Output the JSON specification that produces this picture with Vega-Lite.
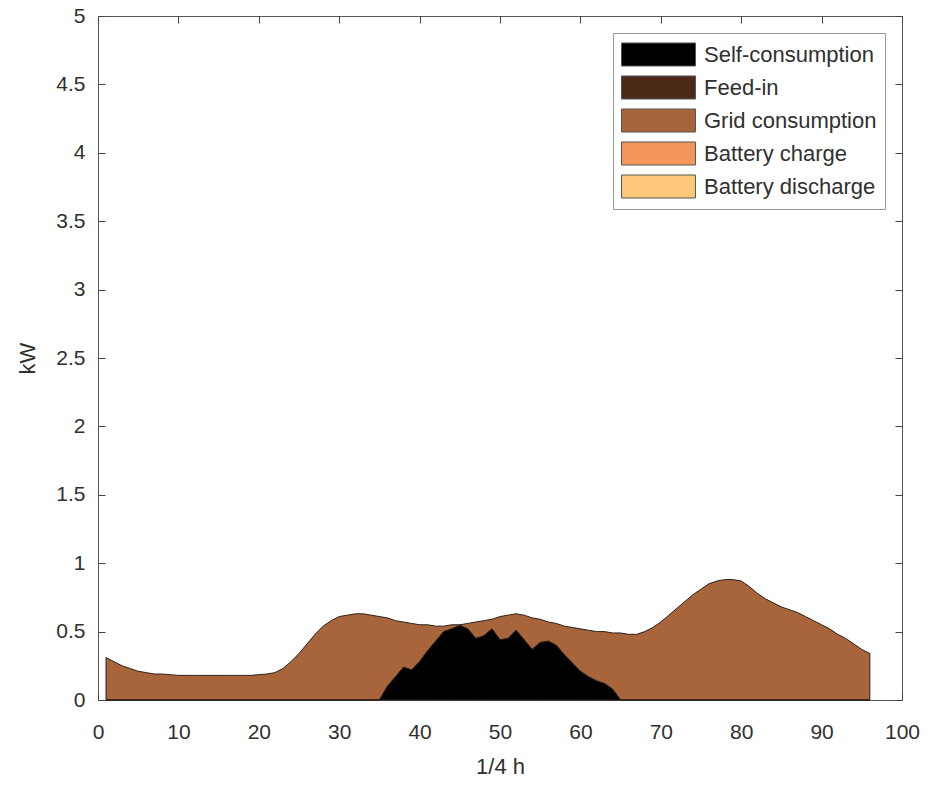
{
  "$schema": "https://vega.github.io/schema/vega-lite/v6.json",
  "width": 804,
  "height": 684,
  "padding": {"left": 16, "top": 5, "right": 10, "bottom": 5},
  "background": "white",
  "config": {
    "view": {"stroke": "#555", "strokeWidth": 1},
    "font": "Liberation Sans",
    "axis": {"grid": false, "domain": false, "ticks": true, "tickColor": "#444", "tickWidth": 1, "tickSize": 7, "offset": -7, "zindex": 1, "labelFont": "Liberation Sans", "labelFontSize": 21, "labelColor": "#303030", "titleFont": "Liberation Sans", "titleFontSize": 22, "titleFontWeight": "normal", "titleColor": "#303030"}
  },
  "data": {"values": [
    {"t":1,"series":"Grid consumption","kW":0.31},{"t":2,"series":"Grid consumption","kW":0.28},{"t":3,"series":"Grid consumption","kW":0.25},{"t":4,"series":"Grid consumption","kW":0.23},{"t":5,"series":"Grid consumption","kW":0.21},{"t":6,"series":"Grid consumption","kW":0.20},{"t":7,"series":"Grid consumption","kW":0.19},{"t":8,"series":"Grid consumption","kW":0.19},{"t":9,"series":"Grid consumption","kW":0.185},{"t":10,"series":"Grid consumption","kW":0.18},
    {"t":11,"series":"Grid consumption","kW":0.18},{"t":12,"series":"Grid consumption","kW":0.18},{"t":13,"series":"Grid consumption","kW":0.18},{"t":14,"series":"Grid consumption","kW":0.18},{"t":15,"series":"Grid consumption","kW":0.18},{"t":16,"series":"Grid consumption","kW":0.18},{"t":17,"series":"Grid consumption","kW":0.18},{"t":18,"series":"Grid consumption","kW":0.18},{"t":19,"series":"Grid consumption","kW":0.18},{"t":20,"series":"Grid consumption","kW":0.185},
    {"t":21,"series":"Grid consumption","kW":0.19},{"t":22,"series":"Grid consumption","kW":0.20},{"t":23,"series":"Grid consumption","kW":0.23},{"t":24,"series":"Grid consumption","kW":0.28},{"t":25,"series":"Grid consumption","kW":0.34},{"t":26,"series":"Grid consumption","kW":0.41},{"t":27,"series":"Grid consumption","kW":0.48},{"t":28,"series":"Grid consumption","kW":0.54},{"t":29,"series":"Grid consumption","kW":0.58},{"t":30,"series":"Grid consumption","kW":0.61},
    {"t":31,"series":"Grid consumption","kW":0.62},{"t":32,"series":"Grid consumption","kW":0.63},{"t":33,"series":"Grid consumption","kW":0.63},{"t":34,"series":"Grid consumption","kW":0.62},{"t":35,"series":"Grid consumption","kW":0.61},{"t":36,"series":"Grid consumption","kW":0.50},{"t":37,"series":"Grid consumption","kW":0.41},{"t":38,"series":"Grid consumption","kW":0.33},{"t":39,"series":"Grid consumption","kW":0.34},{"t":40,"series":"Grid consumption","kW":0.27},
    {"t":41,"series":"Grid consumption","kW":0.19},{"t":42,"series":"Grid consumption","kW":0.11},{"t":43,"series":"Grid consumption","kW":0.04},{"t":44,"series":"Grid consumption","kW":0.03},{"t":45,"series":"Grid consumption","kW":0.005},{"t":46,"series":"Grid consumption","kW":0.04},{"t":47,"series":"Grid consumption","kW":0.12},{"t":48,"series":"Grid consumption","kW":0.11},{"t":49,"series":"Grid consumption","kW":0.07},{"t":50,"series":"Grid consumption","kW":0.17},
    {"t":51,"series":"Grid consumption","kW":0.17},{"t":52,"series":"Grid consumption","kW":0.12},{"t":53,"series":"Grid consumption","kW":0.18},{"t":54,"series":"Grid consumption","kW":0.23},{"t":55,"series":"Grid consumption","kW":0.17},{"t":56,"series":"Grid consumption","kW":0.14},{"t":57,"series":"Grid consumption","kW":0.16},{"t":58,"series":"Grid consumption","kW":0.21},{"t":59,"series":"Grid consumption","kW":0.26},{"t":60,"series":"Grid consumption","kW":0.31},
    {"t":61,"series":"Grid consumption","kW":0.34},{"t":62,"series":"Grid consumption","kW":0.36},{"t":63,"series":"Grid consumption","kW":0.38},{"t":64,"series":"Grid consumption","kW":0.41},{"t":65,"series":"Grid consumption","kW":0.49},{"t":66,"series":"Grid consumption","kW":0.48},{"t":67,"series":"Grid consumption","kW":0.48},{"t":68,"series":"Grid consumption","kW":0.50},{"t":69,"series":"Grid consumption","kW":0.53},{"t":70,"series":"Grid consumption","kW":0.57},
    {"t":71,"series":"Grid consumption","kW":0.62},{"t":72,"series":"Grid consumption","kW":0.67},{"t":73,"series":"Grid consumption","kW":0.72},{"t":74,"series":"Grid consumption","kW":0.77},{"t":75,"series":"Grid consumption","kW":0.81},{"t":76,"series":"Grid consumption","kW":0.85},{"t":77,"series":"Grid consumption","kW":0.87},{"t":78,"series":"Grid consumption","kW":0.88},{"t":79,"series":"Grid consumption","kW":0.88},{"t":80,"series":"Grid consumption","kW":0.87},
    {"t":81,"series":"Grid consumption","kW":0.83},{"t":82,"series":"Grid consumption","kW":0.78},{"t":83,"series":"Grid consumption","kW":0.74},{"t":84,"series":"Grid consumption","kW":0.71},{"t":85,"series":"Grid consumption","kW":0.68},{"t":86,"series":"Grid consumption","kW":0.66},{"t":87,"series":"Grid consumption","kW":0.64},{"t":88,"series":"Grid consumption","kW":0.61},{"t":89,"series":"Grid consumption","kW":0.58},{"t":90,"series":"Grid consumption","kW":0.55},
    {"t":91,"series":"Grid consumption","kW":0.52},{"t":92,"series":"Grid consumption","kW":0.48},{"t":93,"series":"Grid consumption","kW":0.45},{"t":94,"series":"Grid consumption","kW":0.41},{"t":95,"series":"Grid consumption","kW":0.37},{"t":96,"series":"Grid consumption","kW":0.34},
    {"t":35,"series":"Self-consumption","kW":0},{"t":36,"series":"Self-consumption","kW":0.10},{"t":37,"series":"Self-consumption","kW":0.17},{"t":38,"series":"Self-consumption","kW":0.24},{"t":39,"series":"Self-consumption","kW":0.22},{"t":40,"series":"Self-consumption","kW":0.28},
    {"t":41,"series":"Self-consumption","kW":0.36},{"t":42,"series":"Self-consumption","kW":0.43},{"t":43,"series":"Self-consumption","kW":0.50},{"t":44,"series":"Self-consumption","kW":0.52},{"t":45,"series":"Self-consumption","kW":0.545},{"t":46,"series":"Self-consumption","kW":0.52},{"t":47,"series":"Self-consumption","kW":0.45},{"t":48,"series":"Self-consumption","kW":0.47},{"t":49,"series":"Self-consumption","kW":0.52},{"t":50,"series":"Self-consumption","kW":0.44},
    {"t":51,"series":"Self-consumption","kW":0.45},{"t":52,"series":"Self-consumption","kW":0.51},{"t":53,"series":"Self-consumption","kW":0.44},{"t":54,"series":"Self-consumption","kW":0.37},{"t":55,"series":"Self-consumption","kW":0.42},{"t":56,"series":"Self-consumption","kW":0.43},{"t":57,"series":"Self-consumption","kW":0.40},{"t":58,"series":"Self-consumption","kW":0.33},{"t":59,"series":"Self-consumption","kW":0.27},{"t":60,"series":"Self-consumption","kW":0.21},
    {"t":61,"series":"Self-consumption","kW":0.17},{"t":62,"series":"Self-consumption","kW":0.14},{"t":63,"series":"Self-consumption","kW":0.12},{"t":64,"series":"Self-consumption","kW":0.08},{"t":65,"series":"Self-consumption","kW":0}
  ]},
  "layer": [
    {
      "mark": {"type": "area", "stroke": "#2a2018", "strokeWidth": 1, "interpolate": "linear"},
      "encoding": {
        "x": {"field": "t", "type": "quantitative", "scale": {"domain": [0, 100], "nice": false},
              "axis": {"orient": "bottom", "title": "1/4 h", "values": [0,10,20,30,40,50,60,70,80,90,100], "labelFlush": false, "labelPadding": 21, "titlePadding": 14}},
        "y": {"field": "kW", "type": "quantitative", "stack": "zero", "scale": {"domain": [0, 5], "nice": false},
              "axis": {"orient": "left", "title": "kW", "values": [0,0.5,1,1.5,2,2.5,3,3.5,4,4.5,5], "format": "~g", "labelPadding": 13, "titlePadding": 16}},
        "color": {"field": "series", "type": "nominal",
                  "scale": {"domain": ["Self-consumption","Feed-in","Grid consumption","Battery charge","Battery discharge"],
                            "range": ["#000000","#4b2a18","#a8643a","#f4955a","#fdc678"]},
                  "legend": {"title": null, "orient": "top-right", "offset": 17, "fillColor": "white", "strokeColor": "#999", "padding": 8,
                             "symbolType": "M-1,-0.885H4.69V0.885H-1Z", "symbolSize": 676, "symbolStrokeColor": "#555", "symbolStrokeWidth": 1, "symbolOpacity": 1,
                             "labelOffset": 56, "labelFontSize": 22, "labelFont": "Liberation Sans", "labelColor": "#303030", "rowPadding": 4, "labelLimit": 400}},
        "order": {"field": "series", "sort": "descending"}
      }
    },
    {
      "mark": {"type": "point", "opacity": 0},
      "encoding": {
        "x": {"field": "t", "type": "quantitative", "axis": {"orient": "top", "labels": false, "title": null, "values": [0,10,20,30,40,50,60,70,80,90,100]}},
        "y": {"field": "kW", "type": "quantitative", "axis": {"orient": "right", "labels": false, "title": null, "values": [0,0.5,1,1.5,2,2.5,3,3.5,4,4.5,5]}}
      }
    }
  ],
  "resolve": {"axis": {"x": "independent", "y": "independent"}}
}
